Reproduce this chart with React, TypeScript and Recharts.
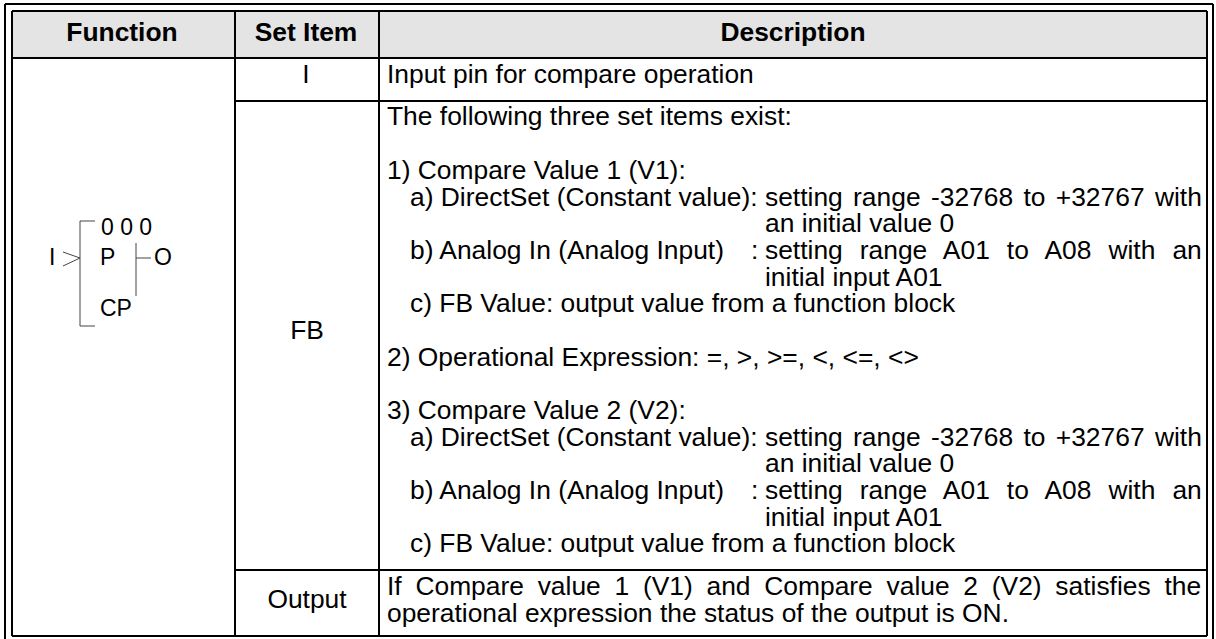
import { ReferenceArea, ReferenceLine, Scatter, ScatterChart, XAxis, YAxis } from "recharts";

const WIDTH = 1216;
const HEIGHT = 639;
const FONT = "'Liberation Sans', Arial, sans-serif";

// table rules, in page pixels: [x1, y1, x2, y2]
const frameRules = [
  [5, 4, 5, 639],
  [5, 4, 1213, 4],
  [1213, 4, 1213, 639],
  [12, 11, 12, 636],
  [12, 11, 1207, 11],
  [1207, 11, 1207, 636],
  [12, 636, 1207, 636],
  [12, 58, 1207, 58],
  [235, 101, 1207, 101],
  [235, 570, 1207, 570],
  [235, 11, 235, 636],
  [379, 11, 379, 636],
];

// thin strokes of the function block symbol
const symbolRules = [
  [80, 221, 95, 221],
  [80, 221, 80, 326],
  [80, 326, 95, 326],
  [63, 252, 80, 258],
  [80, 258, 63, 266],
  [136, 243, 136, 296],
  [136, 258, 151, 258],
];

const headerLabels = ["Function", "Set Item", "Description"];
const headerCentres = [122, 306, 793];
const headerBaselines = [41, 41, 41];

const setItemLabels = ["I", "FB", "Output"];
const setItemCentres = [306, 307, 307];
const setItemBaselines = [83, 339, 608];

const symbolLabels = ["I", "0 0 0", "P", "O", "CP"];
const symbolLefts = [49, 101, 100, 154, 100];
const symbolBaselines = [265, 235, 265, 265, 316];

const descriptionLines = [
  "Input pin for compare operation",
  "The following three set items exist:",
  "1) Compare Value 1 (V1):",
  "a) DirectSet (Constant value):",
  "setting range -32768 to +32767 with",
  "an initial value 0",
  "b) Analog In (Analog Input)",
  ":",
  "setting range A01 to A08 with an",
  "initial input A01",
  "c) FB Value: output value from a function block",
  "2) Operational Expression: =, >, >=, <, <=, <>",
  "3) Compare Value 2 (V2):",
  "a) DirectSet (Constant value):",
  "setting range -32768 to +32767 with",
  "an initial value 0",
  "b) Analog In (Analog Input)",
  ":",
  "setting range A01 to A08 with an",
  "initial input A01",
  "c) FB Value: output value from a function block",
  "If Compare value 1 (V1) and Compare value 2 (V2) satisfies the",
  "operational expression the status of the output is ON.",
];
const descriptionLefts = [
  387, 387, 387, 410, 765, 765, 410, 751, 765, 765, 410, 387, 387, 410, 765, 765, 410, 751, 765, 765, 410, 387, 387,
];
const descriptionBaselines = [
  83, 125, 179, 206, 206, 232, 259, 259, 259, 286, 312, 366, 419, 446, 446, 472, 499, 499, 499, 526, 552, 595, 622,
];
// extra word gap on the justified lines
const descriptionWordGaps = [
  0, 0, 0, 0, 3, 0, 0, 0, 9.7, 0, 0, 0, 0, 0, 3, 0, 0, 0, 9.7, 0, 0, 6.4, 0,
];

const toPoints = (labels: string[], xs: number[], ys: number[], gaps?: number[]) =>
  labels.map((label, i) => ({ label, x: xs[i], y: ys[i], gap: gaps ? gaps[i] : 0 }));

function cellText(anchor: "start" | "middle", weight: number, size: number) {
  return (props: any) => (
    <text
      x={props.cx}
      y={props.cy}
      textAnchor={anchor}
      fontFamily={FONT}
      fontSize={size}
      fontWeight={weight}
      fill="#000"
      style={{ wordSpacing: props.payload.gap, whiteSpace: "pre" }}
    >
      {props.payload.label}
    </text>
  );
}

export default function App() {
  return (
    <div style={{ position: "absolute", left: 0, top: 0, width: WIDTH, height: HEIGHT, background: "#fff" }}>
      <ScatterChart width={WIDTH} height={HEIGHT} margin={{ top: 0, right: 0, bottom: 0, left: 0 }}>
        <XAxis type="number" dataKey="x" domain={[0, WIDTH]} hide />
        <YAxis type="number" dataKey="y" domain={[0, HEIGHT]} reversed hide />
        <ReferenceArea x1={13} x2={1206} y1={12} y2={57} fill="#e4e4e4" fillOpacity={1} stroke="none" />
        {frameRules.map(([x1, y1, x2, y2], i) => (
          <ReferenceLine
            key={`frame${i}`}
            segment={[{ x: x1, y: y1 }, { x: x2, y: y2 }]}
            stroke="#000"
            strokeWidth={2}
          />
        ))}
        {symbolRules.map(([x1, y1, x2, y2], i) => (
          <ReferenceLine
            key={`symbol${i}`}
            segment={[{ x: x1, y: y1 }, { x: x2, y: y2 }]}
            stroke="#444"
            strokeWidth={1}
          />
        ))}
        <Scatter
          data={toPoints(headerLabels, headerCentres, headerBaselines)}
          shape={cellText("middle", 700, 26.4)}
          isAnimationActive={false}
        />
        <Scatter
          data={toPoints(setItemLabels, setItemCentres, setItemBaselines)}
          shape={cellText("middle", 400, 26.4)}
          isAnimationActive={false}
        />
        <Scatter
          data={toPoints(symbolLabels, symbolLefts, symbolBaselines)}
          shape={cellText("start", 400, 23)}
          isAnimationActive={false}
        />
        <Scatter
          data={toPoints(descriptionLines, descriptionLefts, descriptionBaselines, descriptionWordGaps)}
          shape={cellText("start", 400, 26.4)}
          isAnimationActive={false}
        />
      </ScatterChart>
    </div>
  );
}
